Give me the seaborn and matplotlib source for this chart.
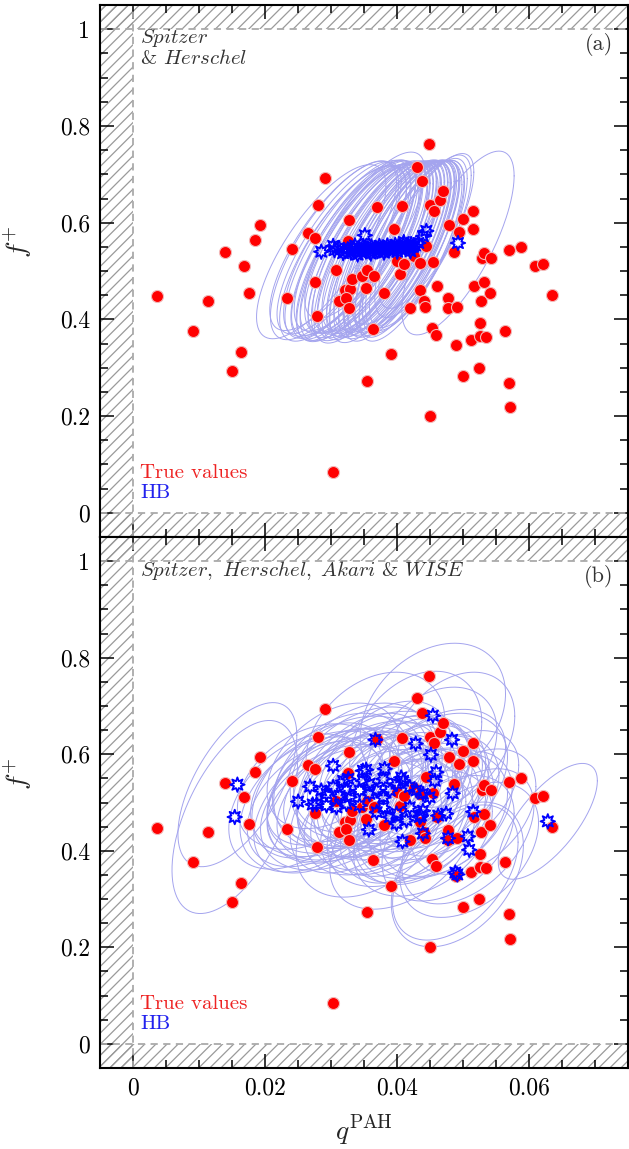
import numpy as np
import pandas as pd
import matplotlib
matplotlib.use('Agg')
import matplotlib.pyplot as plt
import seaborn as sns
from matplotlib.ticker import MultipleLocator, FuncFormatter

# true values (same in both panels)
true_q = [0.0036, 0.0091, 0.0114, 0.0150, 0.0164, 0.0168, 0.0175, 0.0139, 0.0185, 0.0192,
          0.0233, 0.0241, 0.0265, 0.0275, 0.0276, 0.0279, 0.0280, 0.0291, 0.0303, 0.0308,
          0.0312, 0.0321, 0.0328, 0.0323, 0.0327, 0.0326, 0.0327, 0.0331, 0.0347, 0.0352,
          0.0354, 0.0364, 0.0365, 0.0355, 0.0370, 0.0380, 0.0391, 0.0395, 0.0399, 0.0404,
          0.0408, 0.0411, 0.0420, 0.0426, 0.0430, 0.0435, 0.0435, 0.0437, 0.0441, 0.0442,
          0.0443, 0.0448, 0.0449, 0.0449, 0.0453, 0.0454, 0.0455, 0.0458, 0.0460, 0.0465,
          0.0470, 0.0477, 0.0477, 0.0478, 0.0486, 0.0489, 0.0490, 0.0493, 0.0500, 0.0500,
          0.0512, 0.0514, 0.0514, 0.0517, 0.0524, 0.0525, 0.0525, 0.0527, 0.0529, 0.0531,
          0.0532, 0.0534, 0.0541, 0.0542, 0.0563, 0.0569, 0.0569, 0.0571, 0.0588, 0.0608,
          0.0620, 0.0634]
true_f = [0.448, 0.377, 0.438, 0.294, 0.333, 0.511, 0.455, 0.540, 0.564, 0.595,
          0.445, 0.545, 0.578, 0.569, 0.478, 0.408, 0.636, 0.693, 0.085, 0.503,
          0.438, 0.460, 0.463, 0.445, 0.423, 0.562, 0.605, 0.483, 0.490, 0.465,
          0.503, 0.381, 0.490, 0.273, 0.632, 0.454, 0.328, 0.586, 0.521, 0.493,
          0.634, 0.514, 0.423, 0.531, 0.716, 0.517, 0.460, 0.686, 0.438, 0.426,
          0.552, 0.762, 0.636, 0.200, 0.383, 0.519, 0.624, 0.368, 0.470, 0.647,
          0.665, 0.444, 0.423, 0.595, 0.539, 0.347, 0.426, 0.580, 0.607, 0.283,
          0.357, 0.624, 0.586, 0.470, 0.300, 0.393, 0.366, 0.438, 0.526, 0.477,
          0.537, 0.364, 0.454, 0.526, 0.376, 0.543, 0.269, 0.218, 0.550, 0.510,
          0.514, 0.450]

# HB estimates, panel (a): Spitzer & Herschel
hb_a_q = [0.0285, 0.0303, 0.0305, 0.0312, 0.0318, 0.0321, 0.0325, 0.0330, 0.0334, 0.0336,
          0.0338, 0.0340, 0.0342, 0.0345, 0.0348, 0.0351, 0.0352, 0.0355, 0.0358, 0.0360,
          0.0361, 0.0364, 0.0367, 0.0370, 0.0373, 0.0376, 0.0379, 0.0380, 0.0382, 0.0385,
          0.0388, 0.0391, 0.0394, 0.0397, 0.0400, 0.0400, 0.0403, 0.0406, 0.0409, 0.0410,
          0.0412, 0.0415, 0.0418, 0.0420, 0.0421, 0.0424, 0.0427, 0.0432, 0.0439, 0.0444, 0.0492]
hb_a_f = [0.540, 0.552, 0.543, 0.548, 0.537, 0.541, 0.545, 0.538, 0.548, 0.553,
          0.542, 0.534, 0.546, 0.539, 0.550, 0.574, 0.543, 0.547, 0.540, 0.536,
          0.551, 0.544, 0.548, 0.541, 0.552, 0.545, 0.549, 0.538, 0.543, 0.553,
          0.546, 0.550, 0.544, 0.554, 0.547, 0.540, 0.551, 0.545, 0.555, 0.560,
          0.548, 0.552, 0.546, 0.541, 0.556, 0.550, 0.553, 0.558, 0.572, 0.583, 0.558]
# uncertainty ellipses (a): half-extent in q, half-extent in f, correlation
hb_a_sq = [0.0098, 0.0096, 0.0097, 0.0094, 0.0096, 0.0093, 0.0095, 0.0091, 0.0094, 0.0092,
           0.0090, 0.0093, 0.0089, 0.0092, 0.0088, 0.0091, 0.0087, 0.0090, 0.0088, 0.0086,
           0.0089, 0.0085, 0.0088, 0.0084, 0.0087, 0.0083, 0.0086, 0.0082, 0.0085, 0.0081,
           0.0084, 0.0080, 0.0083, 0.0079, 0.0082, 0.0080, 0.0078, 0.0081, 0.0077, 0.0080,
           0.0076, 0.0079, 0.0075, 0.0078, 0.0074, 0.0077, 0.0075, 0.0074, 0.0073, 0.0072, 0.0085]
hb_a_sf = [0.180, 0.175, 0.185, 0.178, 0.182, 0.176, 0.184, 0.179, 0.181, 0.177,
           0.186, 0.180, 0.175, 0.183, 0.178, 0.172, 0.181, 0.176, 0.184, 0.185,
           0.177, 0.182, 0.179, 0.183, 0.176, 0.180, 0.178, 0.186, 0.181, 0.175,
           0.182, 0.177, 0.184, 0.176, 0.180, 0.185, 0.178, 0.182, 0.174, 0.170,
           0.181, 0.177, 0.183, 0.186, 0.172, 0.179, 0.176, 0.175, 0.168, 0.160, 0.190]
hb_a_rho = [0.75, 0.76, 0.74, 0.77, 0.75, 0.73, 0.76, 0.74, 0.78, 0.75,
            0.77, 0.73, 0.76, 0.75, 0.74, 0.77, 0.75, 0.76, 0.73, 0.75,
            0.74, 0.77, 0.75, 0.76, 0.74, 0.78, 0.75, 0.73, 0.76, 0.74,
            0.77, 0.75, 0.76, 0.74, 0.75, 0.77, 0.73, 0.76, 0.75, 0.74,
            0.76, 0.75, 0.77, 0.74, 0.76, 0.75, 0.73, 0.76, 0.75, 0.76, 0.73]

# HB estimates, panel (b): Spitzer, Herschel, Akari & WISE
hb_b_q = [0.0158, 0.0154, 0.0250, 0.0272, 0.0303, 0.0367, 0.0353, 0.0381, 0.0406, 0.0428,
          0.0451, 0.0454, 0.0483, 0.0459, 0.0484, 0.0457, 0.0515, 0.0507, 0.0509, 0.0491,
          0.0488, 0.0477, 0.0439, 0.0408, 0.0357, 0.0474, 0.0462, 0.0436, 0.0399, 0.0628,
          0.0268, 0.0285, 0.0293, 0.0303, 0.0313, 0.0323, 0.0318, 0.0328, 0.0343, 0.0348,
          0.0358, 0.0369, 0.0379, 0.0389, 0.0399, 0.0409, 0.0419, 0.0429, 0.0439, 0.0449,
          0.0379, 0.0358, 0.0323, 0.0343, 0.0379, 0.0399, 0.0419, 0.0439, 0.0308, 0.0293,
          0.0278, 0.0348, 0.0326, 0.0389, 0.0414, 0.0434, 0.0369]
hb_b_f = [0.537, 0.470, 0.502, 0.496, 0.576, 0.630, 0.568, 0.570, 0.552, 0.622,
          0.599, 0.680, 0.630, 0.563, 0.519, 0.545, 0.481, 0.430, 0.402, 0.351,
          0.355, 0.426, 0.436, 0.419, 0.444, 0.477, 0.473, 0.473, 0.456, 0.461,
          0.533, 0.525, 0.518, 0.532, 0.514, 0.525, 0.545, 0.511, 0.525, 0.545,
          0.518, 0.525, 0.511, 0.525, 0.539, 0.545, 0.532, 0.525, 0.518, 0.511,
          0.549, 0.539, 0.497, 0.494, 0.490, 0.477, 0.490, 0.483, 0.490, 0.494,
          0.497, 0.566, 0.549, 0.470, 0.463, 0.470, 0.480]
hb_b_sq = [0.0090, 0.0095, 0.0105, 0.0110, 0.0100, 0.0105, 0.0110, 0.0100, 0.0105, 0.0100,
           0.0100, 0.0110, 0.0095, 0.0105, 0.0100, 0.0110, 0.0095, 0.0100, 0.0105, 0.0100,
           0.0095, 0.0100, 0.0105, 0.0110, 0.0110, 0.0100, 0.0105, 0.0110, 0.0105, 0.0075,
           0.0110, 0.0105, 0.0115, 0.0100, 0.0110, 0.0120, 0.0105, 0.0110, 0.0115, 0.0100,
           0.0110, 0.0120, 0.0105, 0.0110, 0.0115, 0.0100, 0.0110, 0.0105, 0.0100, 0.0105,
           0.0115, 0.0110, 0.0120, 0.0105, 0.0110, 0.0100, 0.0105, 0.0100, 0.0115, 0.0110,
           0.0105, 0.0110, 0.0115, 0.0105, 0.0100, 0.0100, 0.0110]
hb_b_sf = [0.17, 0.20, 0.14, 0.14, 0.13, 0.14, 0.13, 0.14, 0.13, 0.15,
           0.14, 0.15, 0.14, 0.13, 0.13, 0.14, 0.13, 0.14, 0.14, 0.15,
           0.14, 0.13, 0.13, 0.14, 0.14, 0.13, 0.13, 0.14, 0.13, 0.12,
           0.13, 0.14, 0.13, 0.12, 0.14, 0.13, 0.14, 0.13, 0.12, 0.14,
           0.13, 0.14, 0.13, 0.12, 0.14, 0.13, 0.13, 0.14, 0.12, 0.13,
           0.14, 0.13, 0.12, 0.14, 0.13, 0.13, 0.12, 0.14, 0.13, 0.14,
           0.13, 0.14, 0.13, 0.12, 0.13, 0.14, 0.13]
hb_b_rho = [0.60, 0.55, 0.40, 0.35, 0.40, 0.30, 0.35, 0.40, 0.35, 0.30,
            0.35, 0.30, 0.35, 0.40, 0.45, 0.35, 0.40, 0.45, 0.40, 0.40,
            0.45, 0.40, 0.35, 0.40, 0.35, 0.40, 0.35, 0.40, 0.35, 0.70,
            0.35, 0.40, 0.30, 0.45, 0.35, 0.40, 0.30, 0.45, 0.35, 0.40,
            0.30, 0.40, 0.35, 0.45, 0.30, 0.40, 0.35, 0.40, 0.45, 0.35,
            0.30, 0.40, 0.35, 0.45, 0.40, 0.35, 0.30, 0.40, 0.35, 0.45,
            0.40, 0.30, 0.35, 0.45, 0.40, 0.35, 0.40]

sns.set_style('ticks')
plt.rcParams['font.family'] = ['cmr10', 'DejaVu Serif']
plt.rcParams['mathtext.fontset'] = 'cm'
plt.rcParams['axes.unicode_minus'] = False
plt.rcParams['axes.formatter.use_mathtext'] = True
plt.rcParams['hatch.linewidth'] = 0.9

true_df = pd.DataFrame({'q': true_q, 'f': true_f})

fig = plt.figure(figsize=(6.29, 11.49), dpi=100)
ax_a = fig.add_axes([0.159, 0.5326, 0.840, 0.4630])
ax_b = fig.add_axes([0.159, 0.0705, 0.840, 0.4621])

t = np.linspace(0, 2 * np.pi, 200)


def draw_panel(ax, hq, hf, sq, sf, rho, title, tag):
    ax.set_xlim(-0.005, 0.075)
    ax.set_ylim(-0.05, 1.05)
    # forbidden regions
    for span in [ax.axvspan(-0.005, 0), ax.axhspan(1, 1.05), ax.axhspan(-0.05, 0)]:
        span.set_facecolor('none')
        span.set_edgecolor('#9a9a9a')
        span.set_hatch('///')
        span.set_linewidth(0)
        span.set_zorder(0)
    ax.axvline(0, color='#aaaaaa', ls=(0, (4, 3)), lw=1.3, zorder=1)
    ax.axhline(0, color='#aaaaaa', ls=(0, (4, 3)), lw=1.3, zorder=1)
    ax.axhline(1, color='#aaaaaa', ls=(0, (4, 3)), lw=1.3, zorder=1)

    # uncertainty ellipses
    for cq, cf, a, b, r in zip(hq, hf, sq, sf, rho):
        ex = cq + a * np.cos(t)
        ey = cf + b * (r * np.cos(t) + np.sqrt(1 - r ** 2) * np.sin(t))
        ax.plot(ex, ey, color='#a4a4ee', lw=0.7, zorder=2)

    sns.scatterplot(data=true_df, x='q', y='f', ax=ax, color='#ff0000', s=75,
                    edgecolor='#f2b8b8', linewidth=0.8, zorder=3, legend=False)
    hb_df = pd.DataFrame({'q': hq, 'f': hf})
    sns.scatterplot(data=hb_df, x='q', y='f', ax=ax, marker=(8, 1, 0), s=110,
                    facecolor='none', edgecolor='#0000ff', linewidth=1.3,
                    zorder=4, legend=False)

    ax.xaxis.set_major_locator(MultipleLocator(0.02))
    ax.xaxis.set_minor_locator(MultipleLocator(0.005))
    ax.yaxis.set_major_locator(MultipleLocator(0.2))
    ax.yaxis.set_minor_locator(MultipleLocator(0.05))
    ax.xaxis.set_major_formatter(FuncFormatter(lambda v, p: f'{v:g}'))
    ax.yaxis.set_major_formatter(FuncFormatter(lambda v, p: f'{v:g}'))
    ax.tick_params(which='both', direction='in', top=True, right=True,
                   width=1.1, colors='black', labelsize=17, pad=7)
    ax.tick_params(which='major', length=10)
    ax.tick_params(which='minor', length=5.5)
    for sp in ax.spines.values():
        sp.set_linewidth(1.5)
        sp.set_color('black')

    ax.set_ylabel(r'$f^{+}$', fontsize=20, labelpad=0)
    ax.yaxis.set_label_coords(-0.125, 0.555)
    ax.set_xlabel('')

    ax.text(0.076, 0.958, title, transform=ax.transAxes, ha='left', va='top',
            fontsize=15, color='#333333', linespacing=1.0)
    ax.text(0.972, 0.925, tag, transform=ax.transAxes, ha='right', va='center',
            fontsize=16, color='#333333')
    ax.text(0.076, 0.12, 'True values', transform=ax.transAxes, ha='left',
            va='center', fontsize=15, color='#ee2222')
    ax.text(0.076, 0.082, 'HB', transform=ax.transAxes, ha='left',
            va='center', fontsize=15, color='#2222ee')


draw_panel(ax_a, hb_a_q, hb_a_f, hb_a_sq, hb_a_sf, hb_a_rho,
           r'$\mathit{Spitzer}$' + '\n' + r'& $\mathit{Herschel}$', '(a)')
draw_panel(ax_b, hb_b_q, hb_b_f, hb_b_sq, hb_b_sf, hb_b_rho,
           r'$\mathit{Spitzer,\ Herschel,\ Akari}$ & $\mathit{WISE}$', '(b)')

ax_a.tick_params(labelbottom=False)
ax_b.set_xlabel(r'$q^{\mathrm{PAH}}$', fontsize=20)
ax_b.xaxis.set_label_coords(0.5, -0.085)

fig.savefig('out.png', dpi=100)
